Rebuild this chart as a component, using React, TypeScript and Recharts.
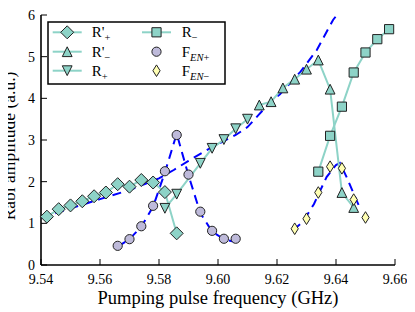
// Recharts
import { ComposedChart, XAxis, YAxis, Scatter, Line } from 'recharts';

const FONT = '"Liberation Serif", "DejaVu Serif", serif';
const TEAL = '#8dd3c7';
const LAVENDER = '#bebada';
const YELLOW = '#ffffb3';
const BLUE = '#0000ff';
const EDGE = '#222222';

// Tick labels
const xTicks = [9.54, 9.56, 9.58, 9.60, 9.62, 9.64, 9.66];
const yTicks = [0, 1, 2, 3, 4, 5, 6];

// R'+ (diamonds)
const rpPlusF = [9.542, 9.546, 9.550, 9.554, 9.558, 9.562, 9.566, 9.570, 9.574, 9.578, 9.582, 9.586];
const rpPlusA = [1.16, 1.34, 1.43, 1.53, 1.65, 1.74, 1.94, 1.88, 2.04, 1.98, 1.75, 0.76];

// R'- (triangles up)
const rpMinusF = [9.614, 9.618, 9.622, 9.626, 9.630, 9.634, 9.638, 9.642, 9.646];
const rpMinusA = [3.84, 3.92, 4.25, 4.46, 4.70, 4.92, 4.22, 1.74, 1.38];

// R+ (triangles down)
const rPlusF = [9.582, 9.586, 9.594, 9.598, 9.602, 9.606, 9.610];
const rPlusA = [1.36, 1.70, 2.44, 2.80, 3.01, 3.27, 3.50];

// R- (squares)
const rMinusF = [9.634, 9.638, 9.642, 9.646, 9.650, 9.654, 9.658];
const rMinusA = [2.24, 3.10, 3.80, 4.62, 5.10, 5.42, 5.66];

// F_EN+ (circles)
const fenPlusF = [9.566, 9.570, 9.574, 9.578, 9.582, 9.586, 9.590, 9.594, 9.598, 9.602, 9.606];
const fenPlusA = [0.46, 0.62, 0.93, 1.42, 2.25, 3.12, 2.17, 1.28, 0.82, 0.63, 0.63];

// F_EN- (thin diamonds)
const fenMinusF = [9.626, 9.630, 9.634, 9.638, 9.642, 9.646, 9.650];
const fenMinusA = [0.87, 1.11, 1.74, 2.36, 2.32, 1.57, 1.14];

// dashed curves
const fitMainF = [9.540, 9.550, 9.560, 9.570, 9.580, 9.585, 9.590, 9.598, 9.606, 9.610, 9.614, 9.618, 9.621, 9.628, 9.6335, 9.639, 9.6403];
const fitMainA = [1.13, 1.36, 1.58, 1.80, 2.08, 2.28, 2.50, 2.83, 3.12, 3.31, 3.62, 3.93, 4.10, 4.64, 5.16, 5.88, 6.0];

const fitPlusF = [9.566, 9.570, 9.574, 9.578, 9.582, 9.586, 9.590, 9.594, 9.598, 9.602, 9.606];
const fitPlusA = [0.44, 0.62, 0.92, 1.40, 2.22, 3.15, 2.15, 1.25, 0.80, 0.62, 0.55];

const fitMinusF = [9.6255, 9.6288, 9.6325, 9.6368, 9.640, 9.6413, 9.6436, 9.6465, 9.6484];
const fitMinusA = [0.84, 1.04, 1.46, 2.11, 2.40, 2.45, 2.11, 1.63, 1.32];

const pts = (f: number[], a: number[]) => f.map((v, i) => ({ f: v, a: a[i] }));

type Kind = 'diamond' | 'up' | 'down' | 'square' | 'circle' | 'thin';

function markerPath(kind: Kind, x: number, y: number) {
    switch (kind) {
        case 'diamond': {
            const s = 6.5;
            return `M${x},${y - s}L${x + s},${y}L${x},${y + s}L${x - s},${y}Z`;
        }
        case 'thin':
            return `M${x},${y - 5.8}L${x + 3.6},${y}L${x},${y + 5.8}L${x - 3.6},${y}Z`;
        case 'up': {
            const s = 4.9;
            return `M${x},${y - s}L${x + s},${y + s}L${x - s},${y + s}Z`;
        }
        case 'down': {
            const s = 4.9;
            return `M${x},${y + s}L${x + s},${y - s}L${x - s},${y - s}Z`;
        }
        case 'square': {
            const s = 4.6;
            return `M${x - s},${y - s}h${2 * s}v${2 * s}h${-2 * s}Z`;
        }
        default: {
            const r = 4.6;
            return `M${x - r},${y}a${r},${r} 0 1,0 ${2 * r},0a${r},${r} 0 1,0 ${-2 * r},0Z`;
        }
    }
}

const shape = (kind: Kind, fill: string) => (p: any) => (
    <path d={markerPath(kind, p.cx, p.cy)} fill={fill} stroke={EDGE} strokeWidth={1} />
);

const tickStyle = { fill: '#000', fontSize: 14, fontFamily: FONT };
const axisLine = { stroke: '#000', strokeWidth: 1.6 };
const tickLine = { stroke: '#000', strokeWidth: 1 };

function LegendBox() {
    const rows = [24.3, 43.7, 62.7];
    const sub = { fontSize: 10.5 };
    return (
        <svg width={400} height={300} style={{ position: 'absolute', left: 0, top: 0, pointerEvents: 'none', overflow: 'visible' }}>
            <rect x={40} y={14} width={177} height={62} fill="#fff" stroke="#000" strokeWidth={1.5} />
            {rows.map((y, i) => (
                <g key={i}>
                    <line x1={44.7} x2={73.7} y1={y} y2={y} stroke={TEAL} strokeWidth={2} />
                    <path d={markerPath((['diamond', 'up', 'down'] as Kind[])[i], 59.2, y)} fill={TEAL} stroke={EDGE} strokeWidth={1} />
                </g>
            ))}
            <line x1={134} x2={163} y1={rows[0]} y2={rows[0]} stroke={TEAL} strokeWidth={2} />
            <path d={markerPath('square', 148.5, rows[0])} fill={TEAL} stroke={EDGE} strokeWidth={1} />
            <path d={markerPath('circle', 148.5, rows[1])} fill={LAVENDER} stroke={EDGE} strokeWidth={1} />
            <path d={markerPath('thin', 148.5, rows[2])} fill={YELLOW} stroke={EDGE} strokeWidth={1} />
            <g fontFamily={FONT} fontSize={15} fill="#000">
                <text x={83.7} y={rows[0] + 5}>R'<tspan dy={4} {...sub}>+</tspan></text>
                <text x={83.7} y={rows[1] + 5}>R'<tspan dy={4} {...sub}>−</tspan></text>
                <text x={83.7} y={rows[2] + 5}>R<tspan dy={4} {...sub}>+</tspan></text>
                <text x={173.7} y={rows[0] + 5}>R<tspan dy={4} {...sub}>−</tspan></text>
                <text x={173.7} y={rows[1] + 5}>F<tspan dy={4} {...sub} fontStyle="italic">EN</tspan><tspan {...sub}>+</tspan></text>
                <text x={173.7} y={rows[2] + 5}>F<tspan dy={4} {...sub} fontStyle="italic">EN</tspan><tspan {...sub}>−</tspan></text>
            </g>
            <g fontFamily={FONT} fill="#000">
                <text x={210} y={296} textAnchor="middle" fontSize={18.5}>Pumping pulse frequency (GHz)</text>
                <text transform="translate(7,138) rotate(-90)" textAnchor="middle" fontSize={17.5}>Rabi amplitude (a.u.)</text>
            </g>
        </svg>
    );
}

export default function App() {
    return (
        <div style={{ position: 'relative', width: 400, height: 300 }}>
            <ComposedChart width={400} height={300} margin={{ top: 7, right: 13, bottom: 0, left: 0 }}>
                <XAxis xAxisId={0} dataKey="f" type="number" domain={[9.54, 9.66]} ticks={xTicks}
                    tickFormatter={(v: number) => v.toFixed(2)} height={43} tickSize={-6} tickMargin={15.5}
                    tick={tickStyle} axisLine={axisLine} tickLine={tickLine} interval={0} />
                <XAxis xAxisId="top" orientation="top" dataKey="f" type="number" domain={[9.54, 9.66]} ticks={xTicks}
                    tickFormatter={() => ''} height={0} tickSize={-6} axisLine={axisLine} tickLine={tickLine} />
                <YAxis yAxisId={0} dataKey="a" type="number" domain={[0, 6]} ticks={yTicks} width={33}
                    tickSize={-6} tickMargin={12} tick={tickStyle} axisLine={axisLine} tickLine={tickLine} interval={0} />
                <YAxis yAxisId="right" orientation="right" type="number" domain={[0, 6]} ticks={yTicks} width={0}
                    tickFormatter={() => ''} tickSize={-6} axisLine={axisLine} tickLine={tickLine} />

                <Scatter name="R'+" data={pts(rpPlusF, rpPlusA)} dataKey="a" shape={shape('diamond', TEAL)}
                    line={{ stroke: TEAL, strokeWidth: 2 }} lineType="joint" isAnimationActive={false} />
                <Scatter name="R'-" data={pts(rpMinusF, rpMinusA)} dataKey="a" shape={shape('up', TEAL)}
                    line={{ stroke: TEAL, strokeWidth: 2 }} lineType="joint" isAnimationActive={false} />
                <Scatter name="R+" data={pts(rPlusF, rPlusA)} dataKey="a" shape={shape('down', TEAL)}
                    line={{ stroke: TEAL, strokeWidth: 2 }} lineType="joint" isAnimationActive={false} />
                <Scatter name="R-" data={pts(rMinusF, rMinusA)} dataKey="a" shape={shape('square', TEAL)}
                    line={{ stroke: TEAL, strokeWidth: 2 }} lineType="joint" isAnimationActive={false} />
                <Scatter name="FEN+" data={pts(fenPlusF, fenPlusA)} dataKey="a" shape={shape('circle', LAVENDER)} isAnimationActive={false} />
                <Scatter name="FEN-" data={pts(fenMinusF, fenMinusA)} dataKey="a" shape={shape('thin', YELLOW)} isAnimationActive={false} />

                <Line data={pts(fitMainF, fitMainA)} dataKey="a" stroke={BLUE} strokeWidth={2} strokeDasharray="9 6" dot={false} isAnimationActive={false} />
                <Line data={pts(fitPlusF, fitPlusA)} dataKey="a" stroke={BLUE} strokeWidth={2} strokeDasharray="9 6" dot={false} isAnimationActive={false} />
                <Line data={pts(fitMinusF, fitMinusA)} dataKey="a" stroke={BLUE} strokeWidth={2} strokeDasharray="9 6" dot={false} isAnimationActive={false} />
            </ComposedChart>
            <LegendBox />
        </div>
    );
}
